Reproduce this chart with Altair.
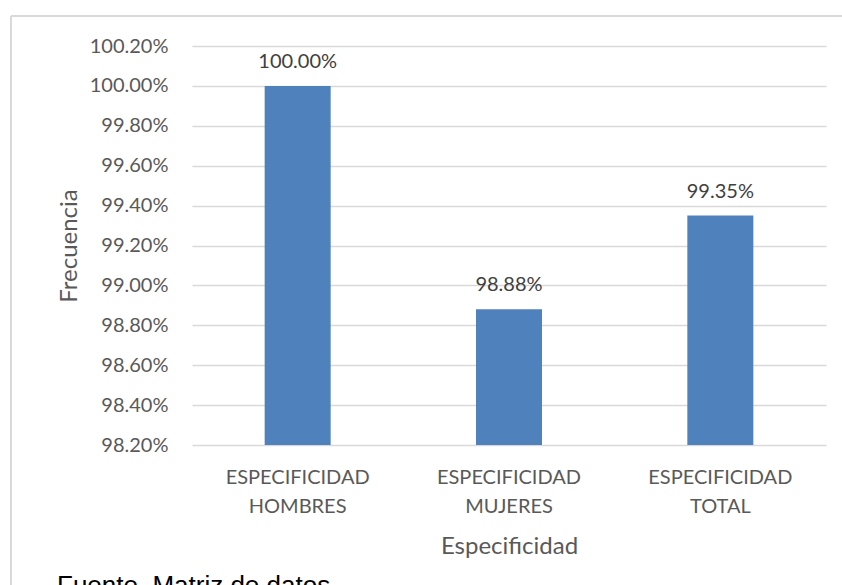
import altair as alt
import pandas as pd

categories = ["ESPECIFICIDAD HOMBRES", "ESPECIFICIDAD MUJERES", "ESPECIFICIDAD TOTAL"]
values = [1.0000, 0.9888, 0.9935]
y_ticks = [0.982, 0.984, 0.986, 0.988, 0.990, 0.992, 0.994, 0.996, 0.998, 1.000, 1.002]

df = pd.DataFrame({"cat": categories, "val": values})

FONT = "Lato"
GREY = "#595959"

x = alt.X("cat:N", sort=categories, title="Especificidad",
          scale=alt.Scale(paddingInner=0, paddingOuter=0),
          axis=alt.Axis(labelAngle=0, labelExpr="split(datum.label, ' ')",
                        labelLineHeight=29, labelFontSize=20, labelColor=GREY,
                        labelFont=FONT, labelPadding=22, domain=False, ticks=False,
                        titleFont=FONT, titleFontSize=24, titleFontWeight="normal",
                        titleColor=GREY, titlePadding=18))
y = alt.Y("val:Q", title="Frecuencia",
          scale=alt.Scale(domain=[0.982, 1.002], nice=False, zero=False),
          axis=alt.Axis(values=y_ticks, tickCount=len(y_ticks), format=".2%",
                        labelFontSize=20, labelColor=GREY,
                        labelFont=FONT, labelPadding=24, labelOverlap=False,
                        domain=False, ticks=False,
                        gridColor="#d9d9d9", gridWidth=1.5,
                        titleFont=FONT, titleFontSize=24, titleFontWeight="normal",
                        titleColor=GREY, titlePadding=8))

bars = alt.Chart(df).mark_bar(size=66, color="#4f81bd", clip=True).encode(x=x, y=y)

labels = alt.Chart(df).mark_text(dy=-18, baseline="alphabetic", fontSize=20, font=FONT,
                                 color="#404040").encode(
    x=alt.X("cat:N", sort=categories), y="val:Q", text=alt.Text("val:Q", format=".2%"))

border_top = alt.Chart(df).mark_rule(color="#d9d9d9", strokeWidth=1.5).encode(
    x=alt.value(-181), x2=alt.value(650), y=alt.value(-30))
border_left = alt.Chart(df).mark_rule(color="#d9d9d9", strokeWidth=1.5).encode(
    x=alt.value(-181), y=alt.value(-30), y2=alt.value(545))

source = alt.Chart(pd.DataFrame({"t": ["Fuente. Matriz de datos"]})).mark_text(
    align="left", baseline="alphabetic", fontSize=26, font="Liberation Sans", color="#000000"
).encode(x=alt.value(-135), y=alt.value(548), text="t:N")

chart = alt.layer(bars, labels, border_top, border_left, source).properties(
    width=634, height=399,
    autosize=alt.AutoSizeParams(type="none"),
    padding={"left": 192, "top": 46, "right": 16, "bottom": 140},
).configure(background="white").configure_view(strokeWidth=0)

chart.save("out.html", embed_options={"renderer": "svg", "actions": False})
